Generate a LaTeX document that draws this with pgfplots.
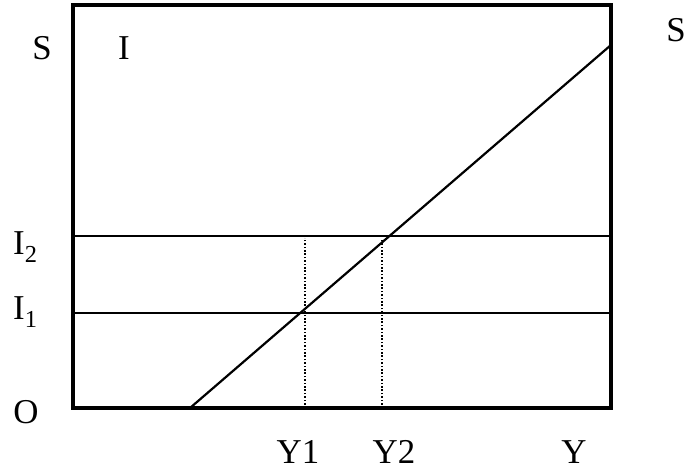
\documentclass[border=0pt]{standalone}
\usepackage{fontspec}
\setmainfont{Liberation Serif}
\usepackage{pgfplots}
\pgfplotsset{compat=1.18}

\begin{document}
\begin{tikzpicture}[x=1bp,y=1bp,
  lbl/.style={font=\fontsize{35}{40}\selectfont}]
\path[use as bounding box] (-73bp,-65bp) rectangle (616bp,408bp);
\begin{axis}[
  at={(0,0)}, anchor=south west,
  width=538bp, height=403bp,
  scale only axis,
  xmin=0, xmax=538,
  ymin=0, ymax=403,
  ticks=none,
  axis line style={draw=none},
  axis background/.style={draw=black, line width=3.2bp},
  clip=false,
]
% savings line S
\addplot[black, line width=2.2bp] coordinates {(117,0) (538,363)};
% investment levels I1, I2
\addplot[black, line width=2.2bp] coordinates {(0,95) (538,95)};
\addplot[black, line width=2.2bp] coordinates {(0,172) (538,172)};
% income levels Y1, Y2
\addplot[black, line width=1.8bp, dash pattern=on 1.6bp off 1.8bp] coordinates {(232,0) (232,170)};
\addplot[black, line width=1.8bp, dash pattern=on 1.6bp off 1.8bp] coordinates {(309,0) (309,168)};

\node[lbl, anchor=base] at (axis cs:-31,348) {S};
\node[lbl, anchor=base] at (axis cs:51,348) {I};
\node[lbl, anchor=base] at (axis cs:603,366) {S};
\node[lbl, anchor=base west, inner sep=0pt] at (axis cs:-60,153) {I\textsubscript{2}};
\node[lbl, anchor=base west, inner sep=0pt] at (axis cs:-60,88) {I\textsubscript{1}};
\node[lbl, anchor=base] at (axis cs:-47,-15) {O};
\node[lbl, anchor=base] at (axis cs:225,-55) {Y1};
\node[lbl, anchor=base] at (axis cs:321,-55) {Y2};
\node[lbl, anchor=base] at (axis cs:501,-55) {Y};
\end{axis}
\end{tikzpicture}
\end{document}
